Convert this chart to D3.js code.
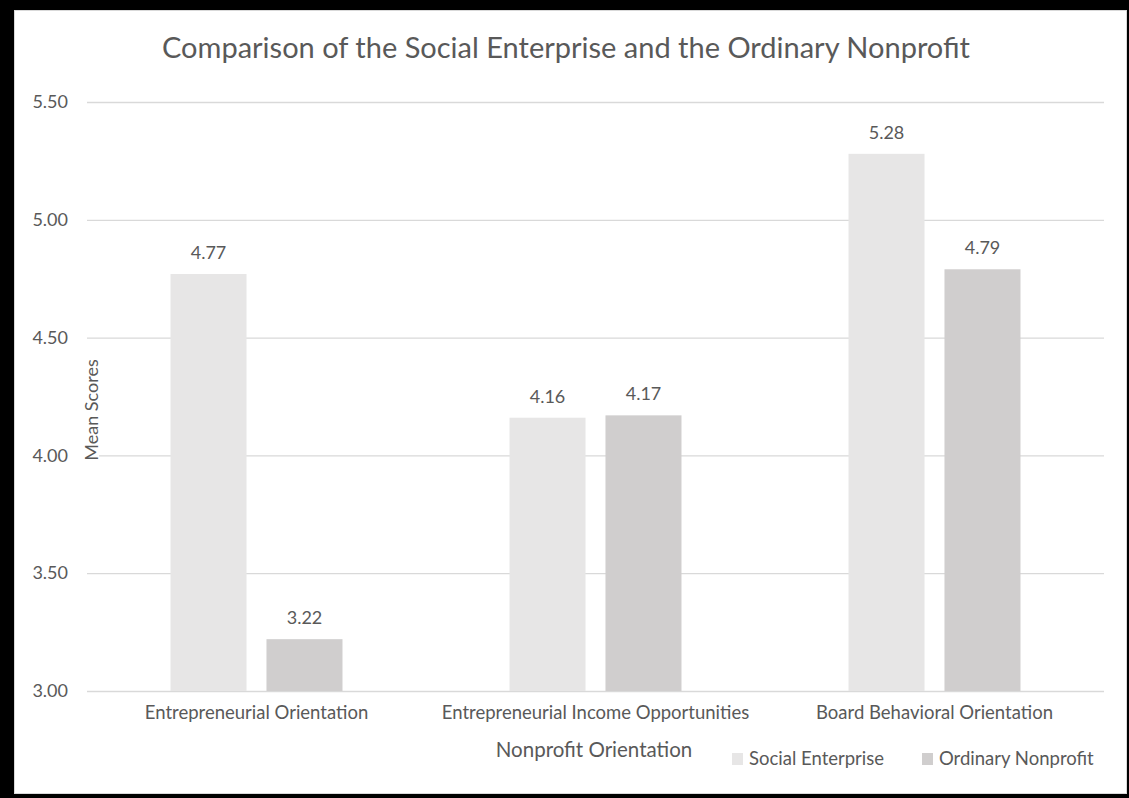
<!DOCTYPE html>
<html>
<head>
<meta charset="utf-8">
<script src="https://cdn.jsdelivr.net/npm/d3@7"></script>
<style>
  body { margin: 0; background: #000; }
  svg { display: block; }
  text { font-family: Lato, "Open Sans", sans-serif; fill: #595959; }
</style>
</head>
<body>
<div id="chart"></div>
<script>
const categories = ["Entrepreneurial Orientation", "Entrepreneurial Income Opportunities", "Board Behavioral Orientation"]
const seriesNames = ["Social Enterprise", "Ordinary Nonprofit"]
const socialEnterprise = [4.77, 4.16, 5.28]
const ordinaryNonprofit = [3.22, 4.17, 4.79]
const yTicks = [3.00, 3.50, 4.00, 4.50, 5.00, 5.50]
const colors = ["#e7e6e6", "#d0cece"]

const W = 1129, H = 798
const MARGIN = { TOP: 102, BOTTOM: 107, LEFT: 87, RIGHT: 25 }

const svg = d3.select("#chart").append("svg")
  .attr("width", W).attr("height", H)

// frame
svg.append("rect").attr("x", 0).attr("y", 0).attr("width", W).attr("height", H).attr("fill", "#000")
svg.append("rect").attr("x", 14).attr("y", 10).attr("width", W - 16).attr("height", H - 14)
  .attr("fill", "#d9d9d9")
svg.append("rect").attr("x", 15).attr("y", 11).attr("width", W - 18).attr("height", H - 16)
  .attr("fill", "#fff")

const x0 = d3.scaleBand().domain(categories)
  .range([MARGIN.LEFT, W - MARGIN.RIGHT]).paddingInner(0).paddingOuter(0)
const x1 = d3.scaleBand().domain(seriesNames)
  .range([0, x0.bandwidth()]).paddingInner(0.208).paddingOuter(0.87)
const y = d3.scaleLinear().domain([3, 5.5]).range([H - MARGIN.BOTTOM, MARGIN.TOP])

// gridlines + y labels
const yAxis = svg.append("g")
  .attr("transform", `translate(${MARGIN.LEFT},0)`)
  .call(d3.axisLeft(y).tickValues(yTicks).tickFormat(d3.format(".2f"))
    .tickSize(-(W - MARGIN.LEFT - MARGIN.RIGHT)).tickPadding(19))
yAxis.select(".domain").remove()
yAxis.selectAll("line").attr("stroke", "#d9d9d9").attr("stroke-width", 1.3)
yAxis.selectAll("text").style("font-size", "18px").attr("fill", "#595959")
  .style("font-family", "Lato, sans-serif")

const data = categories.map((c, i) => ({ cat: c, values: [socialEnterprise[i], ordinaryNonprofit[i]] }))

const groups = svg.selectAll(".grp").data(data).enter().append("g")
  .attr("transform", d => `translate(${x0(d.cat)},0)`)

groups.selectAll("rect").data(d => d.values.map((v, j) => ({ name: seriesNames[j], v, j })))
  .enter().append("rect")
  .attr("x", d => x1(d.name))
  .attr("width", x1.bandwidth())
  .attr("y", d => y(d.v))
  .attr("height", d => y(3) - y(d.v))
  .attr("fill", d => colors[d.j])

groups.selectAll(".lbl").data(d => d.values.map((v, j) => ({ name: seriesNames[j], v, j })))
  .enter().append("text")
  .attr("x", d => x1(d.name) + x1.bandwidth() / 2)
  .attr("y", d => y(d.v) - 15)
  .attr("text-anchor", "middle")
  .style("font-size", "18px")
  .text(d => d3.format(".2f")(d.v))

// x axis labels
const xAxis = svg.append("g")
  .attr("transform", `translate(0,${H - MARGIN.BOTTOM})`)
  .call(d3.axisBottom(x0).tickSize(0).tickPadding(15))
xAxis.select(".domain").remove()
xAxis.selectAll("text").style("font-size", "18.5px").attr("fill", "#595959")
  .style("font-family", "Lato, sans-serif")

// title
svg.append("text").attr("x", 566).attr("y", 58).attr("text-anchor", "middle")
  .style("font-size", "29px").text("Comparison of the Social Enterprise and the Ordinary Nonprofit")

// axis titles
svg.append("text").attr("x", 594).attr("y", 757).attr("text-anchor", "middle")
  .style("font-size", "20.5px").text("Nonprofit Orientation")
svg.append("rect").attr("x", 84).attr("y", 356).attr("width", 15).attr("height", 106).attr("fill", "#fff")
svg.append("text").attr("transform", `translate(98,410) rotate(-90)`).attr("text-anchor", "middle")
  .style("font-size", "18px").text("Mean Scores")

// legend
const legendX = [732, 922]
const legend = svg.selectAll(".leg").data(seriesNames).enter().append("g")
  .attr("transform", (d, i) => `translate(${legendX[i]},753)`)
legend.append("rect").attr("width", 11).attr("height", 12).attr("fill", (d, i) => colors[i])
legend.append("text").attr("x", 17).attr("y", 12).style("font-size", "18.5px").text(d => d)
</script>
</body>
</html>
